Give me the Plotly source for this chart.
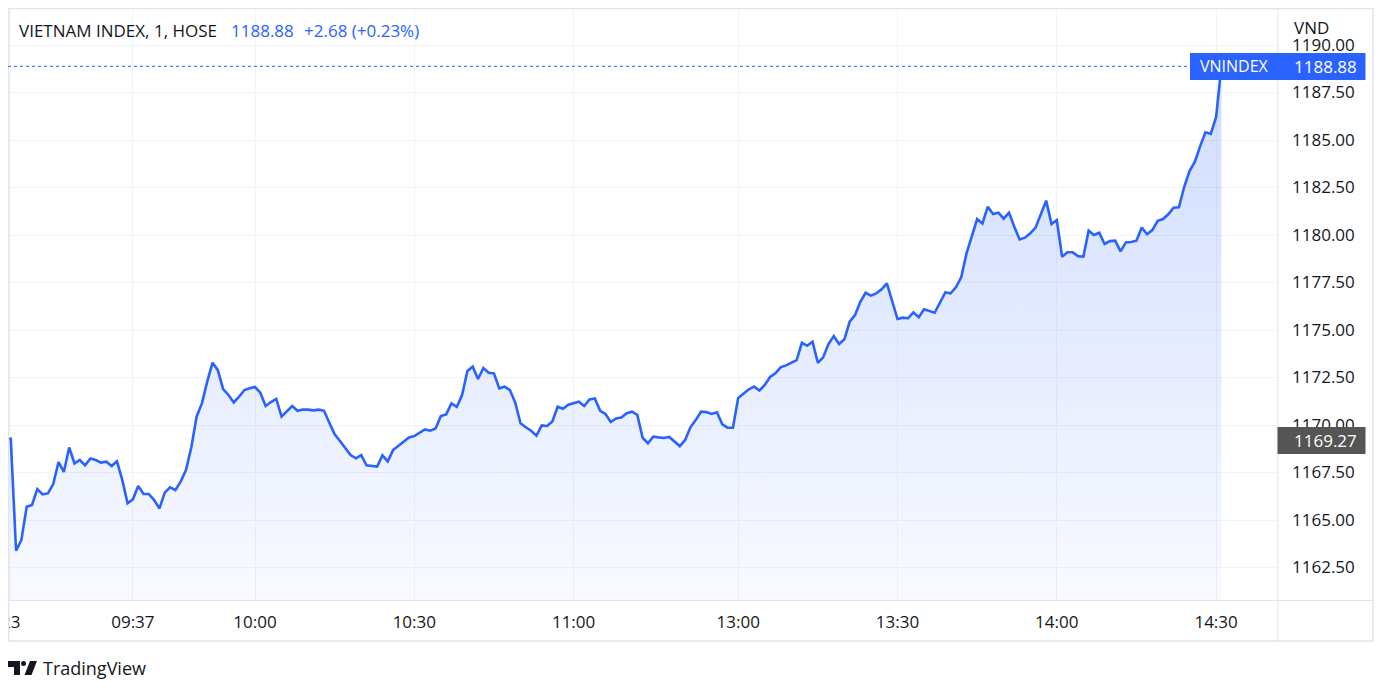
import plotly.graph_objects as go

# ---------------- data ----------------
TIMES = [
    "09:13", "09:14", "09:15", "09:16", "09:17", "09:18", "09:19", "09:20", "09:21", "09:22",
    "09:23", "09:24", "09:25", "09:26", "09:27", "09:28", "09:29", "09:30", "09:31", "09:32",
    "09:33", "09:34", "09:35", "09:36", "09:37", "09:38", "09:39", "09:40", "09:41", "09:42",
    "09:43", "09:44", "09:45", "09:46", "09:47", "09:48", "09:49", "09:50", "09:51", "09:52",
    "09:53", "09:54", "09:55", "09:56", "09:57", "09:58", "09:59", "10:00", "10:01", "10:02",
    "10:03", "10:04", "10:05", "10:06", "10:07", "10:08", "10:09", "10:10", "10:11", "10:12",
    "10:13", "10:14", "10:15", "10:16", "10:17", "10:18", "10:19", "10:20", "10:21", "10:22",
    "10:23", "10:24", "10:25", "10:26", "10:27", "10:28", "10:29", "10:30", "10:31", "10:32",
    "10:33", "10:34", "10:35", "10:36", "10:37", "10:38", "10:39", "10:40", "10:41", "10:42",
    "10:43", "10:44", "10:45", "10:46", "10:47", "10:48", "10:49", "10:50", "10:51", "10:52",
    "10:53", "10:54", "10:55", "10:56", "10:57", "10:58", "10:59", "11:00", "11:01", "11:02",
    "11:03", "11:04", "11:05", "11:06", "11:07", "11:08", "11:09", "11:10", "11:11", "11:12",
    "11:13", "11:14", "11:15", "11:16", "11:17", "11:18", "11:19", "11:20", "11:21", "11:22",
    "11:23", "11:24", "11:25", "11:26", "11:27", "11:28", "11:29", "11:30",
    "13:00", "13:01", "13:02", "13:03", "13:04", "13:05", "13:06", "13:07", "13:08", "13:09",
    "13:10", "13:11", "13:12", "13:13", "13:14", "13:15", "13:16", "13:17", "13:18", "13:19",
    "13:20", "13:21", "13:22", "13:23", "13:24", "13:25", "13:26", "13:27", "13:28", "13:30",
    "13:31", "13:32", "13:33", "13:34", "13:35", "13:37", "13:39", "13:40", "13:41", "13:42",
    "13:43", "13:44", "13:45", "13:46", "13:47", "13:48", "13:49", "13:50", "13:51", "13:52",
    "13:53", "13:54", "13:55", "13:56", "13:57", "13:58", "13:59", "14:00", "14:01", "14:02",
    "14:03", "14:04", "14:05", "14:06", "14:07", "14:08", "14:09", "14:10", "14:11", "14:12",
    "14:13", "14:14", "14:15", "14:16", "14:17", "14:18", "14:19", "14:20", "14:21", "14:22",
    "14:23", "14:24", "14:25", "14:26", "14:27", "14:28", "14:29", "14:30", "14:45",
]

VALUES = [
    1169.27, 1169.27, 1163.38, 1163.95, 1165.70, 1165.79, 1166.63, 1166.35, 1166.40, 1166.89,
    1168.05, 1167.53, 1168.82, 1167.98, 1168.16, 1167.88, 1168.24, 1168.16, 1168.02, 1168.07,
    1167.84, 1168.09, 1167.11, 1165.88, 1166.09, 1166.79, 1166.37, 1166.37, 1166.05, 1165.61,
    1166.44, 1166.72, 1166.58, 1167.02, 1167.63, 1168.82, 1170.44, 1171.14, 1172.28, 1173.28,
    1172.89, 1171.89, 1171.58, 1171.19, 1171.49, 1171.84, 1171.93, 1172.00, 1171.70, 1171.00,
    1171.21, 1171.37, 1170.44, 1170.70, 1171.00, 1170.75, 1170.82, 1170.81, 1170.77, 1170.81,
    1170.75, 1170.12, 1169.51, 1169.16, 1168.77, 1168.42, 1168.25, 1168.42, 1167.88, 1167.86,
    1167.81, 1168.40, 1168.09, 1168.68, 1168.89, 1169.12, 1169.35, 1169.42, 1169.60, 1169.77,
    1169.70, 1169.82, 1170.47, 1170.56, 1171.14, 1170.96, 1171.58, 1172.84, 1173.07, 1172.42,
    1173.00, 1172.75, 1172.72, 1171.93, 1172.02, 1171.84, 1171.19, 1170.09, 1169.88, 1169.70,
    1169.44, 1169.98, 1169.95, 1170.19, 1170.96, 1170.86, 1171.07, 1171.16, 1171.23, 1171.00,
    1171.35, 1171.40, 1170.75, 1170.58, 1170.16, 1170.35, 1170.40, 1170.62, 1170.70, 1170.53,
    1169.33, 1169.04, 1169.39, 1169.35, 1169.32, 1169.37, 1169.14, 1168.89, 1169.21, 1169.88,
    1170.26, 1170.70, 1170.68, 1170.58, 1170.67, 1170.04, 1169.86, 1169.86,
    1171.42, 1171.67, 1171.88, 1172.02, 1171.81, 1172.11, 1172.53, 1172.72, 1173.04, 1173.14,
    1173.30, 1173.42, 1174.33, 1174.17, 1174.38, 1173.28, 1173.56, 1174.26, 1174.68, 1174.26,
    1174.51, 1175.44, 1175.79, 1176.49, 1176.96, 1176.81, 1176.93, 1177.14, 1177.46, 1175.58,
    1175.65, 1175.62, 1175.93, 1175.67, 1176.09, 1175.91, 1176.98, 1176.93, 1177.25, 1177.77,
    1179.04, 1179.91, 1180.84, 1180.61, 1181.49, 1181.11, 1181.18, 1180.86, 1181.18, 1180.44,
    1179.77, 1179.86, 1180.09, 1180.39, 1181.05, 1181.81, 1180.58, 1180.79, 1178.86, 1179.09,
    1179.09, 1178.89, 1178.86, 1180.23, 1180.00, 1180.12, 1179.53, 1179.68, 1179.70, 1179.14,
    1179.61, 1179.63, 1179.70, 1180.40, 1180.04, 1180.26, 1180.75, 1180.84, 1181.09, 1181.44,
    1181.46, 1182.54, 1183.37, 1183.86, 1184.68, 1185.41, 1185.32, 1186.20, 1188.88,
]

TICK_TIMES = ["09:14", "09:37", "10:00", "10:30", "11:00", "13:00", "13:30", "14:00", "14:30"]
TICK_LABELS = ["23", "09:37", "10:00", "10:30", "11:00", "13:00", "13:30", "14:00", "14:30"]
Y_TICKS = [1162.5, 1165.0, 1167.5, 1170.0, 1172.5, 1175.0, 1177.5, 1180.0, 1182.5, 1185.0, 1187.5, 1190.0]

TITLE = "VIETNAM INDEX, 1, HOSE"
SYMBOL = "VNINDEX"
CURRENCY = "VND"
LAST_PRICE = 1188.88
CHANGE = 2.68
CHANGE_PCT = 0.23
REF_PRICE = 1169.27
BRAND = "TradingView"


def bar_pos(t):
    """Bar index in the session (lunch break and ATC gap collapsed)."""
    h, m = map(int, t.split(":"))
    mins = h * 60 + m
    if mins <= 11 * 60 + 30:
        return mins - (9 * 60 + 15)
    if mins <= 14 * 60 + 30:
        return 136 + mins - 13 * 60
    return 136 + 90 + 1


# ---------------- geometry (screen px) ----------------
OFF = 8                      # default body margin of the page
W, H = 1388 - 2 * OFF, 695 - 2 * OFF
PL, PR, PT, PB = 8, 1278, 8, 600

BLUE = "#2962ff"
TEXT = "#131722"
GRID = "#f0f3fa"
BORDER = "#e0e3eb"
FONT = "Open Sans"


def px(sx):
    return (sx - PL) / (PR - PL)


def py(sy):
    return (PB - sy) / (PB - PT)


xs = [bar_pos(t) for t in TIMES]

fig = go.Figure()
fig.add_trace(go.Scatter(
    x=xs, y=VALUES, mode="lines",
    line=dict(color=BLUE, width=2.6),
    fill="tozeroy",
    fillgradient=dict(type="vertical",
                      colorscale=[[0, "rgba(41,98,255,0.03)"], [1, "rgba(41,98,255,0.22)"]],
                      start=1160.8, stop=LAST_PRICE),
    hoverinfo="skip",
))

shapes = []
# outer frame
shapes.append(dict(type="rect", xref="paper", yref="paper",
                   x0=px(8.5), x1=px(1373), y0=py(641), y1=py(8.5),
                   line=dict(color=BORDER, width=1.5), fillcolor="rgba(0,0,0,0)", layer="above"))
# axis separators
shapes.append(dict(type="line", xref="paper", yref="paper", x0=px(1278), x1=px(1278),
                   y0=py(641), y1=py(8.5), line=dict(color=BORDER, width=1), layer="above"))
shapes.append(dict(type="line", xref="paper", yref="paper", x0=px(8.5), x1=px(1373),
                   y0=py(600.5), y1=py(600.5), line=dict(color=BORDER, width=1), layer="above"))
# last price dotted line
shapes.append(dict(type="line", xref="paper", yref="y", x0=px(8), x1=px(1190),
                   y0=LAST_PRICE, y1=LAST_PRICE, line=dict(color=BLUE, width=1, dash="dot"),
                   layer="above"))
# last price label box
shapes.append(dict(type="rect", xref="paper", yref="paper", x0=px(1190), x1=px(1365.5),
                   y0=py(80), y1=py(53), fillcolor=BLUE, line=dict(width=0), layer="above"))
# reference price label box
shapes.append(dict(type="rect", xref="paper", yref="paper", x0=px(1277.5), x1=px(1365.5),
                   y0=py(454), y1=py(427), fillcolor="#555555", line=dict(width=0), layer="above"))


def poly(points):
    d = "M " + " L ".join(f"{px(a):.5f},{py(b):.5f}" for a, b in points) + " Z"
    return d


# TradingView logo
shapes.append(dict(type="path", xref="paper", yref="paper",
                   path=poly([(8, 661), (20, 661), (20, 675), (14, 675), (14, 667), (8, 667)]),
                   fillcolor=TEXT, line=dict(width=0), layer="above"))
shapes.append(dict(type="circle", xref="paper", yref="paper", x0=px(21), x1=px(26),
                   y0=py(666), y1=py(661), fillcolor=TEXT, line=dict(width=0), layer="above"))
shapes.append(dict(type="path", xref="paper", yref="paper",
                   path=poly([(24.5, 675), (30, 661), (37, 661), (31.5, 675)]),
                   fillcolor=TEXT, line=dict(width=0), layer="above"))

ann = []


def text(sx, sy, s, color=TEXT, size=17, anchor="left"):
    ann.append(dict(xref="paper", yref="paper", x=px(sx), y=py(sy), text=s, showarrow=False,
                    xanchor=anchor, yanchor="middle", font=dict(family=FONT, size=size, color=color)))


text(17, 30, TITLE)
text(229, 30, f"{LAST_PRICE:.2f}", color=BLUE)
text(302, 30, f"+{CHANGE:.2f} (+{CHANGE_PCT:.2f}%)", color=BLUE)
text(1292, 27, CURRENCY)
text(1198, 66.5, SYMBOL, color="white", size=16)
text(1292, 66.5, f"{LAST_PRICE:.2f}", color="white")
text(1292, 440.5, f"{REF_PRICE:.2f}", color="white")
text(41, 668, BRAND, size=18)

fig.update_layout(
    width=W, height=H,
    margin=dict(l=PL - OFF, r=OFF + W - PR, t=PT - OFF, b=OFF + H - PB, pad=0),
    paper_bgcolor="white", plot_bgcolor="white",
    showlegend=False, hovermode=False,
    font=dict(family=FONT, size=17, color=TEXT),
    shapes=shapes, annotations=ann,
    xaxis=dict(range=[-1.52, 237.66], tickmode="array",
               tickvals=[bar_pos(t) for t in TICK_TIMES], ticktext=TICK_LABELS,
               showgrid=True, gridcolor=GRID, gridwidth=1, zeroline=False, showline=False,
               ticks="", ticklabelstandoff=10, ticklabeloverflow="allow",
               automargin=False, fixedrange=True,
               tickfont=dict(family=FONT, size=17, color=TEXT)),
    yaxis=dict(side="right", range=[1160.79, 1191.95], tickmode="array",
               tickvals=Y_TICKS, ticktext=[f"{v:.2f}" for v in Y_TICKS],
               showgrid=True, gridcolor=GRID, gridwidth=1, zeroline=False, showline=False,
               ticks="", ticklabelstandoff=13, automargin=False, fixedrange=True,
               tickfont=dict(family=FONT, size=17, color=TEXT)),
)

fig.write_html("out.html", config={"displayModeBar": False, "responsive": False})
